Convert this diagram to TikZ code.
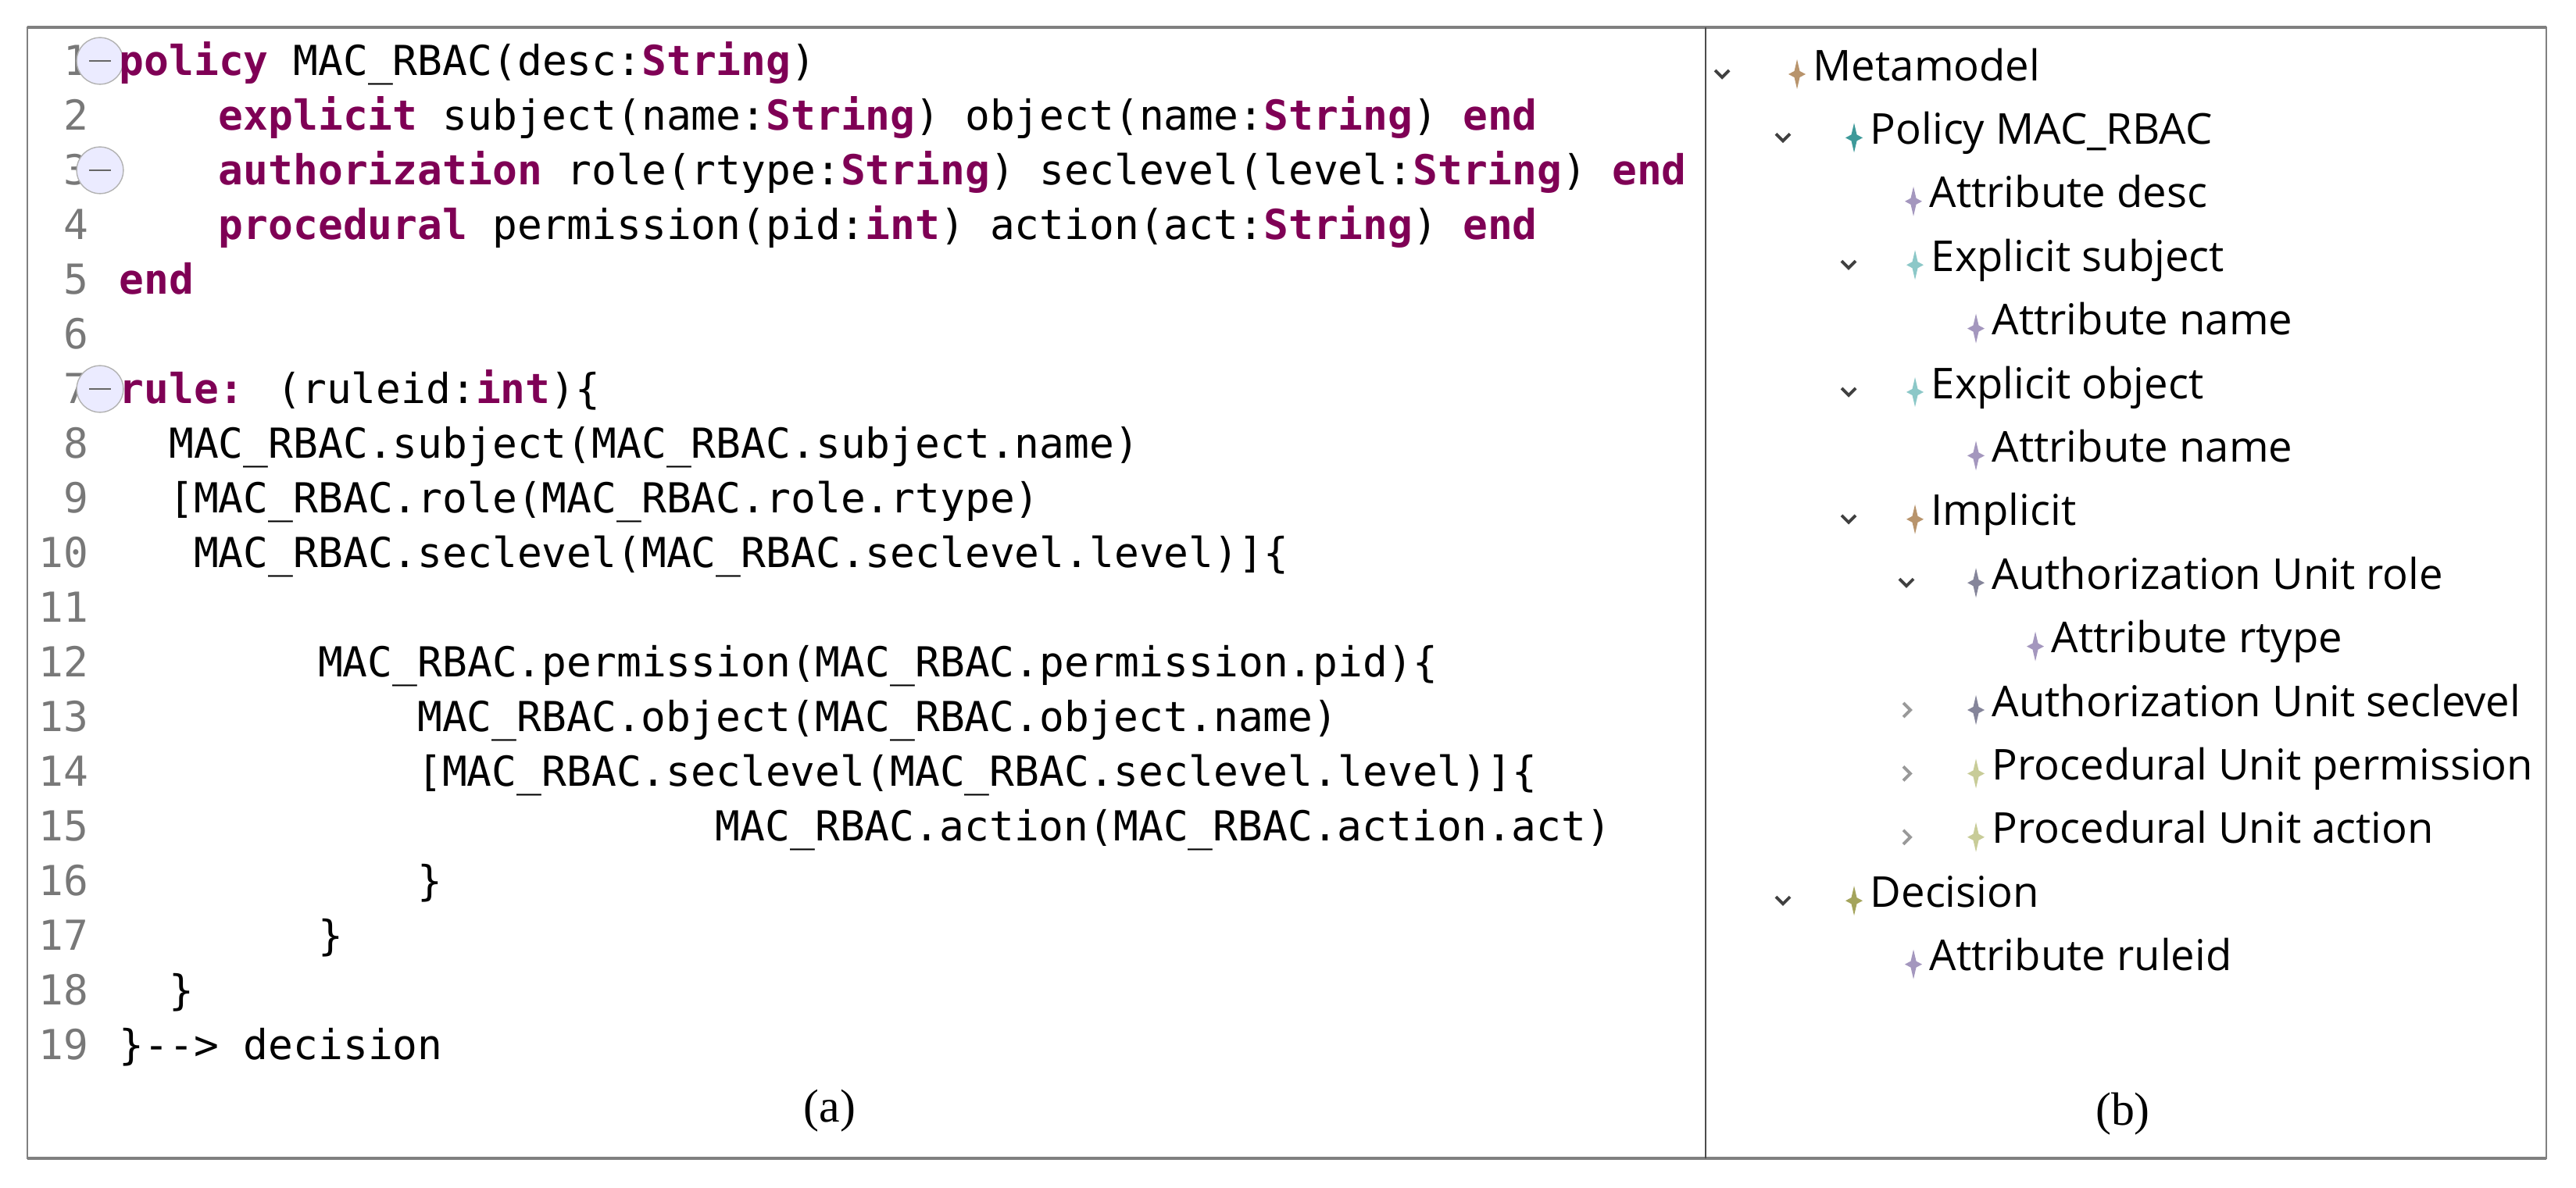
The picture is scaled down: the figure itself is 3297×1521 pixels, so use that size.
\documentclass[tikz,border=0pt]{standalone}
\usepackage{fontspec}
\setmainfont{Liberation Serif}
\newfontfamily\codefont{DejaVu Sans Mono}
\newfontfamily\treefont{Open Sans}
\definecolor{kwc}{HTML}{7F0055}
\definecolor{lnc}{HTML}{787878}
\definecolor{frc}{HTML}{808080}
\definecolor{ctan}{HTML}{B8946C}
\definecolor{cteal}{HTML}{3E9A9A}
\definecolor{cattr}{HTML}{A497BE}
\definecolor{cexp}{HTML}{8CC8C8}
\definecolor{cauth}{HTML}{85859A}
\definecolor{cproc}{HTML}{C8CC98}
\definecolor{cdec}{HTML}{A4A45C}
\newcommand{\kw}[1]{\textcolor{kwc}{\bfseries #1}}
\begin{document}
\begin{tikzpicture}[x=0.1mm,y=-0.1mm,
  code/.style={font=\codefont\fontsize{15.05pt}{16pt}\selectfont,anchor=mid west,inner sep=0pt},
  lnum/.style={font=\codefont\fontsize{15.05pt}{16pt}\selectfont,text=lnc,anchor=mid east,inner sep=0pt},
  tree/.style={font=\treefont\fontsize{15.5pt}{17pt}\selectfont,anchor=mid west,inner sep=0pt},
  captn/.style={font=\fontsize{17pt}{20pt}\selectfont,inner sep=0pt},
  fold/.style={circle,draw=gray!60,fill=blue!8,minimum size=17,inner sep=0pt},
  chev/.style={draw=#1,line width=1.1pt},
]
\useasboundingbox (0,0) rectangle (3297,1521);
% frame
\draw[frc,line width=0.5pt] (35,35) rectangle (3259,1483);
\draw[frc,line width=1.3pt] (35,35) -- (3259,35);
\draw[frc,line width=1.3pt] (35,1483) -- (3259,1483);
\draw[black!70,line width=0.5pt] (2183,35) -- (2183,1483);
% code
\foreach \i in {1,...,19}{\node[lnum] (n\i) at (114,{88+70*(\i-1)}) {\i};}
\foreach \i in {1,3,7}{\node[fold] (f\i) at (128,{78+70*(\i-1)}) {}; \draw[gray!80!black] ([xshift=-4]f\i.center) -- ([xshift=4]f\i.center);}
\def\cw{31.8}
\node[code] (c1) at (152,88) {\kw{policy} MAC\_RBAC(desc:\kw{String})};
\node[code] (c2) at ({152+4*\cw},158) {\kw{explicit} subject(name:\kw{String}) object(name:\kw{String}) \kw{end}};
\node[code] (c3) at ({152+4*\cw},228) {\kw{authorization} role(rtype:\kw{String}) seclevel(level:\kw{String}) \kw{end}};
\node[code] (c4) at ({152+4*\cw},298) {\kw{procedural} permission(pid:\kw{int}) action(act:\kw{String}) \kw{end}};
\node[code] (c5) at (152,368) {\kw{end}};
\node[code] (c7) at (152,508) {\kw{rule:} (ruleid:\kw{int})\{};
\node[code] (c8) at ({152+2*\cw},578) {MAC\_RBAC.subject(MAC\_RBAC.subject.name)};
\node[code] (c9) at ({152+2*\cw},648) {[MAC\_RBAC.role(MAC\_RBAC.role.rtype)};
\node[code] (c10) at ({152+3*\cw},718) {MAC\_RBAC.seclevel(MAC\_RBAC.seclevel.level)]\{};
\node[code] (c12) at ({152+8*\cw},858) {MAC\_RBAC.permission(MAC\_RBAC.permission.pid)\{};
\node[code] (c13) at ({152+12*\cw},928) {MAC\_RBAC.object(MAC\_RBAC.object.name)};
\node[code] (c14) at ({152+12*\cw},998) {[MAC\_RBAC.seclevel(MAC\_RBAC.seclevel.level)]\{};
\node[code] (c15) at ({152+24*\cw},1068) {MAC\_RBAC.action(MAC\_RBAC.action.act)};
\node[code] (c16) at ({152+12*\cw},1138) {\}};
\node[code] (c17) at ({152+8*\cw},1208) {\}};
\node[code] (c18) at ({152+2*\cw},1278) {\}};
\node[code] (c19) at (152,1348) {\}-{}-> decision};
\node[captn] (capa) at (1062,1422) {(a)};
\node[captn] (capb) at (2717,1426) {(b)};
% tree
\newcommand{\icon}[3]{\fill[#3] (#1,#2) +(0,-19) -- +(3.5,-4) -- +(11,0) -- +(3.5,4) -- +(0,19) -- +(-3.5,4) -- +(-11,0) -- +(-3.5,-4) -- cycle;}
\newcommand{\dchev}[2]{\draw[chev=black!75] (#1-9,#2-5) -- (#1,#2+4) -- (#1+9,#2-5);}
\newcommand{\rchev}[2]{\draw[chev=black!40] (#1-4,#2-9) -- (#1+5,#2) -- (#1-4,#2+9);}
\def\dy{81.4}
\foreach \t/\x/\c/\lbl [count=\k from 0] in {
  t0/2320/ctan/Metamodel,
  t1/2393/cteal/Policy MAC\_RBAC,
  t2/2469/cattr/Attribute desc,
  t3/2471/cexp/Explicit subject,
  t4/2549/cattr/Attribute name,
  t5/2471/cexp/Explicit object,
  t6/2549/cattr/Attribute name,
  t7/2471/ctan/Implicit,
  t8/2549/cauth/Authorization Unit role,
  t9/2625/cattr/Attribute rtype,
  t10/2549/cauth/Authorization Unit seclevel,
  t11/2549/cproc/Procedural Unit permission,
  t12/2549/cproc/Procedural Unit action,
  t13/2393/cdec/Decision,
  t14/2469/cattr/Attribute ruleid}{
  \node[tree] (\t) at (\x,{95+\dy*\k}) {\lbl};
  \icon{\x-20}{95+\dy*\k}{\c}
}
\foreach \k/\x in {0/2204,1/2282,3/2366,5/2366,7/2366,8/2440,13/2282}{\dchev{\x}{95+\dy*\k}}
\foreach \k in {10,11,12}{\rchev{2440}{95+\dy*\k}}
\end{tikzpicture}
\end{document}
